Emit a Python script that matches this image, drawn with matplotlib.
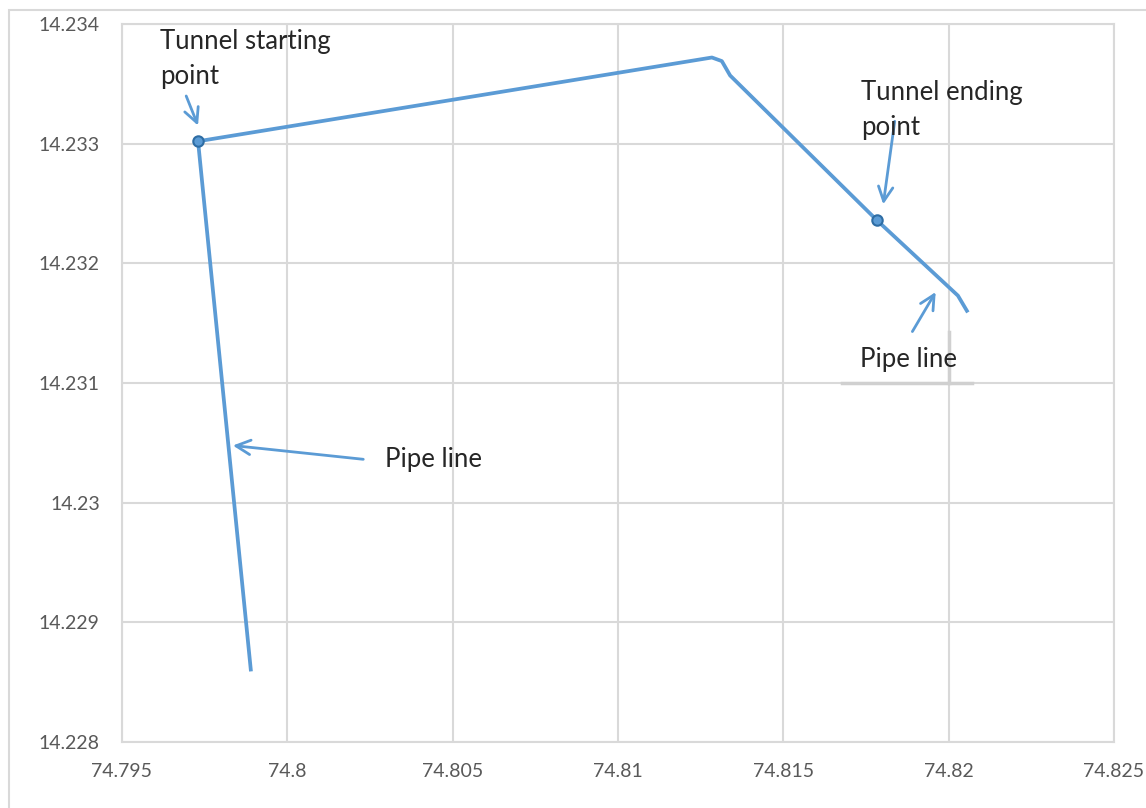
import matplotlib
matplotlib.use("Agg")
import matplotlib.pyplot as plt
from matplotlib.patches import Rectangle

# pipe line route (longitude, latitude)
lon = [74.79890, 74.79730, 74.81284, 74.81314, 74.81339, 74.81783, 74.82028, 74.82058]
lat = [14.22859, 14.23302, 14.23372, 14.23369, 14.23357, 14.23236, 14.23173, 14.23159]

# tunnel start / end points
tunnel_lon = [74.79730, 74.81783]
tunnel_lat = [14.23302, 14.23236]

x_ticks = [74.795, 74.8, 74.805, 74.81, 74.815, 74.82, 74.825]
x_labels = ['74.795', '74.8', '74.805', '74.81', '74.815', '74.82', '74.825']
y_ticks = [14.228, 14.229, 14.23, 14.231, 14.232, 14.233, 14.234]
y_labels = ['14.228', '14.229', '14.23', '14.231', '14.232', '14.233', '14.234']

BLUE = '#5B9BD5'
GRID = '#D9D9D9'
TXT = '#595959'

plt.rcParams['font.family'] = ['Lato', 'DejaVu Sans']

fig = plt.figure(figsize=(11.46, 8.08), dpi=100)
fig.patches.append(Rectangle((9/1146, -0.1), 1.2, 1 - 10/808 + 0.1, transform=fig.transFigure,
                             fill=False, edgecolor=GRID, lw=1.5))
ax = fig.add_axes([122/1146, 66/808, 992/1146, 718/808])

ax.plot(lon, lat, color=BLUE, lw=2.7, solid_capstyle='butt', zorder=3)
ax.plot(tunnel_lon, tunnel_lat, ls='none', marker='o', ms=7.5, mfc=BLUE,
        mec='#2E6DA4', mew=1.5, zorder=4)

ax.set_xlim(74.795, 74.825)
ax.set_ylim(14.228, 14.234)
ax.set_xticks(x_ticks)
ax.set_xticklabels(x_labels)
ax.set_yticks(y_ticks)
ax.set_yticklabels(y_labels)
ax.tick_params(length=0, labelsize=14, labelcolor=TXT)
ax.tick_params(axis='x', pad=15)
ax.tick_params(axis='y', pad=16)
ax.grid(True, color=GRID, lw=1.5)
ax.set_axisbelow(True)
for s in ax.spines.values():
    s.set_color(GRID)
    s.set_linewidth(1.5)

# stray text box edges near the right label
ax.plot([74.81677, 74.82071], [14.231, 14.231], color='#D0D0D0', lw=2.5, zorder=2)
ax.plot([74.82, 74.82], [14.23143, 14.231], color='#D0D0D0', lw=2.5, zorder=2)

arrow = dict(arrowstyle='->', color=BLUE, lw=2, mutation_scale=26)
ax.annotate('', xy=(74.79733, 14.23313), xytext=(74.79691, 14.23342), arrowprops=arrow)
ax.annotate('', xy=(74.81801, 14.23247), xytext=(74.81838, 14.23321), arrowprops=arrow)
ax.annotate('', xy=(74.81965, 14.23178), xytext=(74.81886, 14.23141), arrowprops=arrow)
ax.annotate('', xy=(74.79827, 14.23048), xytext=(74.80238, 14.23036), arrowprops=arrow)

ax.text(74.79615, 14.23396, 'Tunnel starting\npoint', fontsize=18.5, color='#262626',
        va='top', ha='left', linespacing=1.5)
ax.text(74.81735, 14.23353, 'Tunnel ending\npoint', fontsize=18.5, color='#262626',
        va='top', ha='left', linespacing=1.5)
ax.text(74.81732, 14.23120, 'Pipe line', fontsize=18.5, color='#262626', va='center', ha='left')
ax.text(74.80295, 14.23036, 'Pipe line', fontsize=18.5, color='#262626', va='center', ha='left')

fig.savefig('out.png', dpi=100, facecolor='white')
